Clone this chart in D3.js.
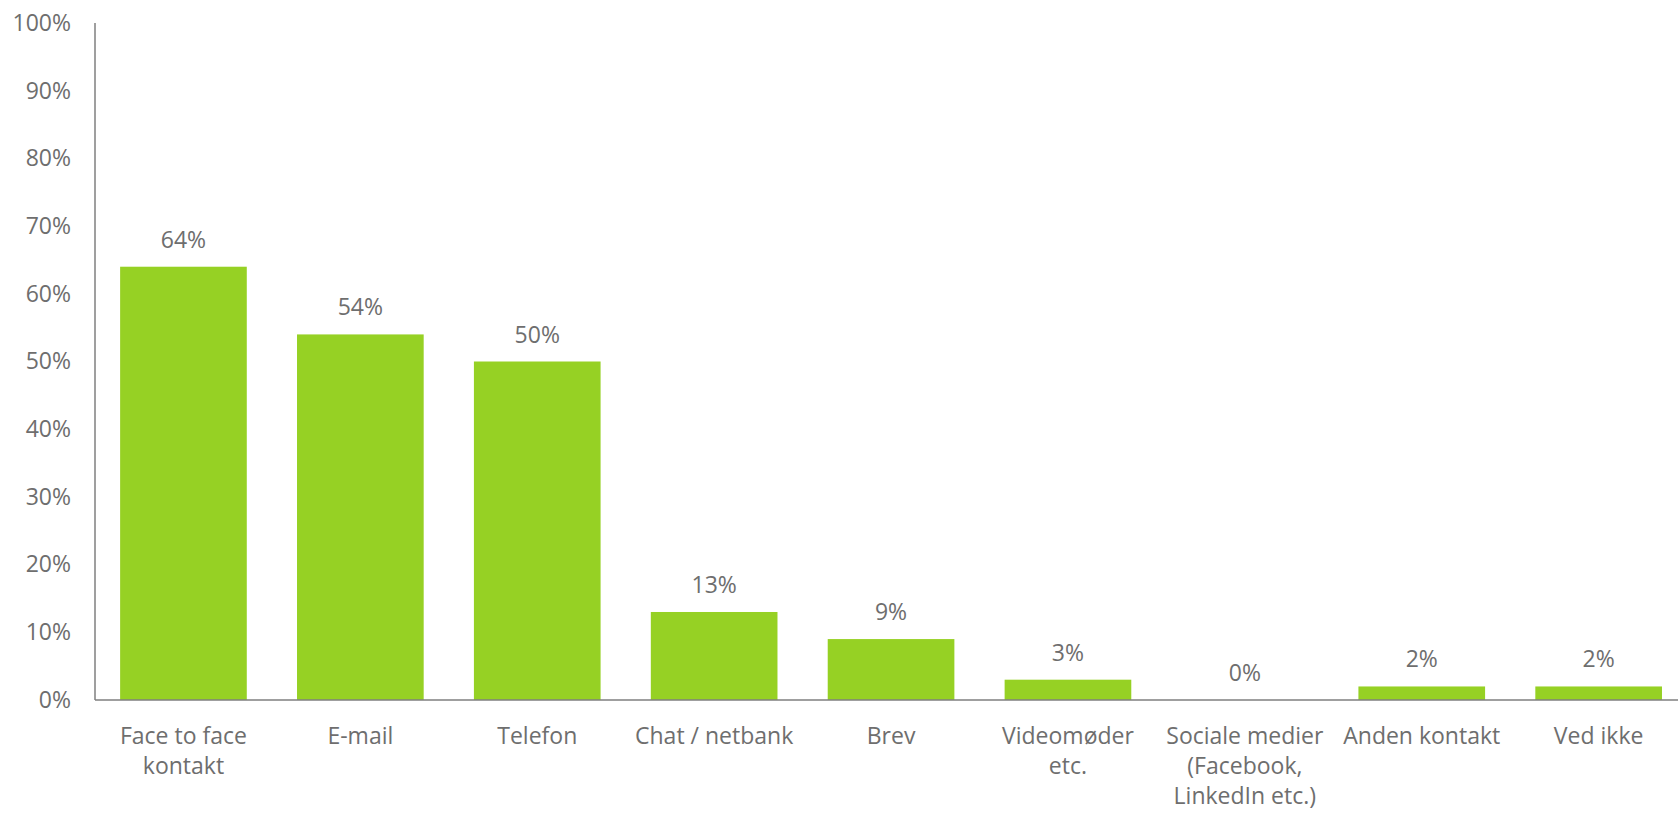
<!DOCTYPE html>
<html><head><meta charset="utf-8">
<script src="https://cdn.jsdelivr.net/npm/d3@7"></script>
<style>html,body{margin:0;padding:0;background:#fff;overflow:hidden}</style>
</head><body>
<svg id="c" width="1678" height="813"></svg>
<script>
const categories = [
  ["Face to face","kontakt"],
  ["E-mail"],
  ["Telefon"],
  ["Chat / netbank"],
  ["Brev"],
  ["Videomøder","etc."],
  ["Sociale medier","(Facebook,","LinkedIn etc.)"],
  ["Anden kontakt"],
  ["Ved ikke"]
];
const values = [64, 54, 50, 13, 9, 3, 0, 2, 2];
const yTicks = [0,10,20,30,40,50,60,70,80,90,100];

const svg = d3.select("#c");
const font = "'Open Sans', sans-serif";
const textColor = "#6e6e6e";
const fs = 23;
const x0 = 95, yBase = 700, yTop = 23, step = 176.9;
const x = d3.scaleBand().domain(d3.range(categories.length))
  .range([x0, x0 + step*categories.length]).paddingInner(0.284).paddingOuter(0.142);
const y = d3.scaleLinear().domain([0,100]).range([yBase, yTop]);

// y tick labels
const yAxis = d3.axisLeft(y).tickValues(yTicks).tickFormat(d => d + "%").tickSize(0).tickPadding(24);
const ya = svg.append("g").attr("transform", `translate(${x0},0)`).call(yAxis);
ya.select(".domain").remove();
ya.selectAll("text").attr("font-family", font).attr("font-size", fs).attr("fill", textColor);

// bars
svg.append("g").selectAll("rect").data(values).join("rect")
  .attr("x", (d,i) => x(i)).attr("width", x.bandwidth())
  .attr("y", d => y(d)).attr("height", d => yBase - y(d))
  .attr("fill", "#96D124");

// axes lines
svg.append("line").attr("x1", x0).attr("x2", x0).attr("y1", yTop).attr("y2", yBase)
  .attr("stroke", "#7f7f7f").attr("stroke-width", 1.5);
svg.append("line").attr("x1", x0).attr("x2", 1678).attr("y1", yBase).attr("y2", yBase)
  .attr("stroke", "#7f7f7f").attr("stroke-width", 1.5);

// data labels
svg.append("g").selectAll("text").data(values).join("text")
  .attr("x", (d,i) => x(i) + x.bandwidth()/2)
  .attr("y", d => y(d) - 19)
  .attr("text-anchor", "middle")
  .attr("font-family", font).attr("font-size", fs).attr("fill", textColor)
  .text(d => d + "%");

// category labels
const cg = svg.append("g").selectAll("text").data(categories).join("text")
  .attr("x", (d,i) => x(i) + x.bandwidth()/2)
  .attr("y", yBase + 44)
  .attr("text-anchor", "middle")
  .attr("font-family", font).attr("font-size", fs).attr("fill", textColor);
cg.each(function(lines, i) {
  d3.select(this).selectAll("tspan").data(lines).join("tspan")
    .attr("x", x(i) + x.bandwidth()/2)
    .attr("dy", (l, j) => j === 0 ? 0 : 30)
    .text(l => l);
});
</script>
</body></html>
